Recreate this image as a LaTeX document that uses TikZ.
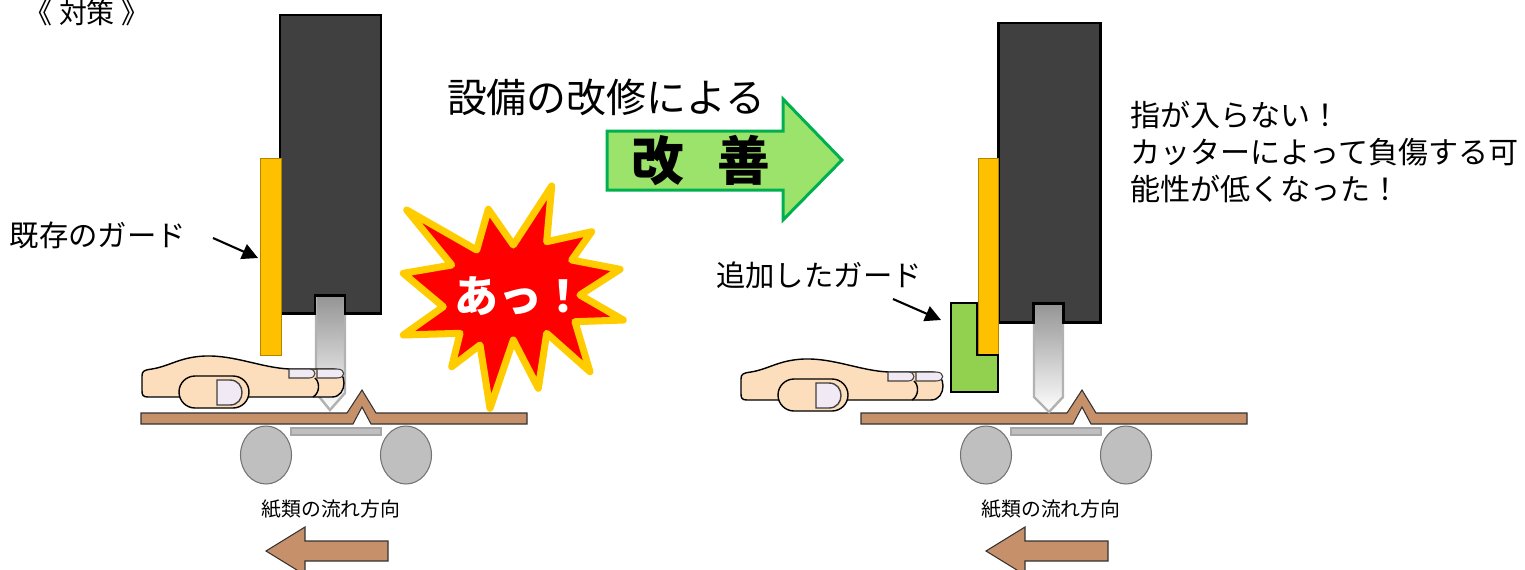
\documentclass[tikz,border=0pt]{standalone}
\usepackage{fontspec}
\newfontfamily\jp{Noto Sans CJK JP}
\usetikzlibrary{arrows.meta}
\definecolor{piel}{RGB}{252,222,188}
\definecolor{una}{RGB}{241,233,243}
\definecolor{papel}{RGB}{197,144,106}
\definecolor{bloque}{RGB}{64,64,64}
\definecolor{naranja}{RGB}{255,192,0}
\definecolor{verde}{RGB}{146,208,80}
\definecolor{flechaverde}{RGB}{155,227,107}
\definecolor{bordeverde}{RGB}{0,176,80}
\definecolor{rueda}{RGB}{191,191,191}
\definecolor{amarillo}{RGB}{255,204,0}

\begin{document}
\begin{tikzpicture}[x=0.02cm, y=-0.02cm,
    every node/.style={inner sep=0pt},
    bloque/.style={fill=bloque, draw=black, line width=1.7pt},
    cuchilla/.style={top color=black!42, bottom color=white, draw=black!30, line width=1.4pt},
    guarda/.style={fill=naranja, draw=naranja!70!black, line width=0.5pt},
    piel/.style={fill=piel, draw=black, line width=0.8pt},
    una/.style={fill=una, draw=black!75, line width=0.6pt},
    papel/.style={fill=papel, draw=black!80, line width=0.6pt},
    rueda/.style={fill=rueda, draw=black!55, line width=0.6pt},
    texto/.style={font=\jp\fontsize{16.7pt}{21pt}\selectfont},
    flechita/.style={line width=1.2pt, -{Triangle[length=9pt, width=9pt]}},
    mano/.pic={
        % palma y dedo
        \draw[piel] (142,376) .. controls (142,371) and (144,370) .. (152,369)
            .. controls (170,366) and (180,357) .. (205,356)
            .. controls (235,355) and (262,368) .. (290,369)
            -- (332,369) .. controls (348,369) and (348,397) .. (332,397)
            -- (148,397) .. controls (143,397) and (142,395) .. (142,391) -- cycle;
        \draw[line width=0.8pt] (315,378) .. controls (320,382) and (320,393) .. (313,397);
        \draw[una] (289,369) -- (309,369) .. controls (317,369) and (317,378) .. (309,378) -- (289,378) -- cycle;
        \draw[una] (317,369) -- (337,369) .. controls (346,369) and (346,378) .. (337,378) -- (317,378) -- cycle;
        % pulgar
        \draw[piel, rounded corners=0.32cm] (179,376) rectangle (249,408);
        \draw[una, line width=0.8pt] (217,380) -- (230,380) .. controls (246,380) and (246,405) .. (230,405) -- (217,405) -- cycle;
    },
  ]
\useasboundingbox (0,0) rectangle (1525,569);
\clip (0,0) rectangle (1525,569);

% Titulo
\node[font=\jp\fontsize{15.9pt}{18pt}\selectfont] (titulo) at (87,13) {《 対策 》};

% Transportador, ruedas y sentido del papel
\foreach \dx in {0,720} {
  \begin{scope}[shift={(\dx,0)}]
    \draw[papel] (141,413) -- (347,413) -- (362,390) -- (376,413) -- (527,413) -- (527,424)
        -- (371,424) -- (362,407) -- (353,424) -- (141,424) -- cycle;
    \draw[fill=rueda, draw=black!35, line width=0.6pt] (291,428) rectangle (381,435);
    \draw[rueda] (266,455) ellipse (25.5 and 29);
    \draw[rueda] (406,455) ellipse (25.5 and 29);
    \node[font=\jp\fontsize{11.3pt}{13pt}\selectfont] at (331,509) {紙類の流れ方向};
    \draw[papel] (266,551) -- (305,527) -- (305,541) -- (388,541) -- (388,561)
        -- (305,561) -- (305,575) -- cycle;
  \end{scope}
}

% Antes
\draw[cuchilla] (316,295) -- (345,295) -- (345,393) -- (330,410) -- (316,393) -- cycle;
\draw[bloque] (280,15) -- (381,15) -- (381,313) -- (345,313) -- (345,295) -- (315,295)
    -- (315,313) -- (280,313) -- cycle;
\draw[guarda] (260,158) rectangle (281,355);
\pic at (0,0) {mano};

\node[texto] (existente) at (98,235) {既存のガード};
\coordinate (e1) at (213,238);
\coordinate (e2) at (258,258);
\draw[flechita] (e1) -- (e2);

% Grito
\draw[fill=red, draw=amarillo, line width=4pt, line join=round]
    (551.7,186) -- (546.7,241.7) -- (591.7,231.7) -- (571.7,260) -- (620,269.3)
    -- (580,295) -- (623.3,320) -- (575,321.7) -- (590,371.7) -- (546.7,333.3)
    -- (538.3,388.3) -- (513.3,340) -- (490,408.3) -- (480,345) -- (451.7,366.7)
    -- (460,333.3) -- (403.3,335) -- (443.3,306.7) -- (403.3,273.3) -- (451.7,265)
    -- (406.7,210) -- (476.7,250) -- (488.3,209.3) -- (513.3,245) -- cycle;
\node[font=\jp\bfseries\fontsize{25pt}{28pt}\selectfont, text=white] (grito) at (520,296) {あっ！};

% Flecha de mejora
\node[font=\jp\fontsize{22.7pt}{26pt}\selectfont] (mejora) at (606,97) {設備の改修による};
\draw[fill=flechaverde, draw=bordeverde, line width=1.7pt]
    (607,131) -- (783,131) -- (783,99) -- (842,160) -- (783,220) -- (783,190) -- (607,190) -- cycle;
\node[font=\jp\bfseries\fontsize{30pt}{34pt}\selectfont] (kaizen) at (701,161) {改\hspace{0.62em}善};

% Despues
\draw[cuchilla] (1034,303) -- (1063,303) -- (1063,397) -- (1049,412) -- (1034,397) -- cycle;
\draw[bloque] (998,23) -- (1100,23) -- (1100,322) -- (1063,322) -- (1063,303) -- (1033,303)
    -- (1033,322) -- (998,322) -- cycle;
\draw[guarda] (978,158) rectangle (998,355);
\draw[fill=verde, draw=black, line width=1pt]
    (951,303) -- (977,303) -- (977,355) -- (998,355) -- (998,392) -- (951,392) -- cycle;
\pic at (599,3) {mano};

\node[texto] (nueva) at (819,275) {追加したガード};
\coordinate (n1) at (893,299);
\coordinate (n2) at (941,320);
\draw[flechita] (n1) -- (n2);

\node[texto, anchor=west, align=left, font=\jp\fontsize{17.1pt}{21.3pt}\selectfont]
    (resultado) at (1130,152) {指が入らない！\\カッターによって負傷する可\\能性が低くなった！};

\end{tikzpicture}
\end{document}
